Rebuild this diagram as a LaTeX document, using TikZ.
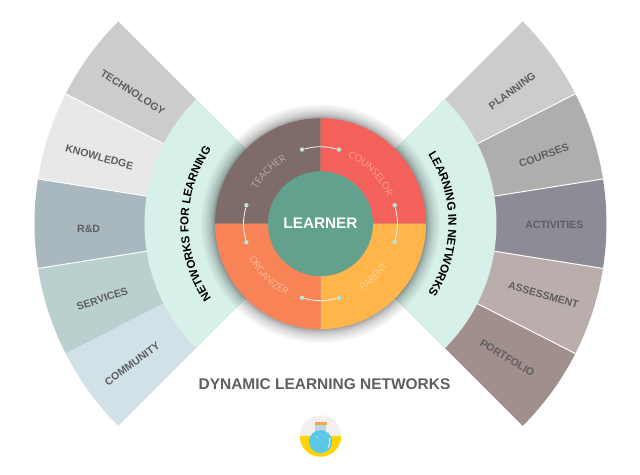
\documentclass[tikz,border=0pt]{standalone}
\usepackage{fontspec}
\setmainfont{Liberation Sans}
\newfontfamily\thinfont{Lato Light}
\usetikzlibrary{decorations.text}
\definecolor{bandmint}{HTML}{D8F0EA}
\definecolor{labelgray}{HTML}{5F5F5F}
\definecolor{dotmint}{HTML}{B8E6D8}
\definecolor{teacherink}{HTML}{DDD5D2}
\definecolor{counselorink}{HTML}{FFCFC8}
\definecolor{organizerink}{HTML}{FFDCC8}
\definecolor{parentink}{HTML}{FFEFCC}
\begin{document}
\begin{tikzpicture}[
    wedge/.style={draw=none},
    gap/.style={draw=white, line width=0.7pt},
    sector/.style={
        font=\fontsize{7.5}{9}\selectfont\bfseries,
        text=labelgray,
        inner sep=0pt
    },
    dot/.style={
        circle,
        fill=dotmint,
        inner sep=0pt,
        minimum size=0.11cm
    },
    link/.style={draw=white!70!dotmint, line width=0.6pt}
]
    \useasboundingbox (-8.0125,-6.2825) rectangle (7.9875,5.5925);

    \fill[wedge, fill={rgb,255:red,204;green,204;blue,204}] (0,0) -- (135:7.15) arc[start angle=135, end angle=153, radius=7.15] -- cycle;
    \fill[wedge, fill={rgb,255:red,232;green,232;blue,232}] (0,0) -- (153:7.15) arc[start angle=153, end angle=171, radius=7.15] -- cycle;
    \fill[wedge, fill={rgb,255:red,168;green,184;blue,190}] (0,0) -- (171:7.15) arc[start angle=171, end angle=189, radius=7.15] -- cycle;
    \fill[wedge, fill={rgb,255:red,185;green,208;blue,206}] (0,0) -- (189:7.15) arc[start angle=189, end angle=207, radius=7.15] -- cycle;
    \fill[wedge, fill={rgb,255:red,208;green,225;blue,231}] (0,0) -- (207:7.15) arc[start angle=207, end angle=225, radius=7.15] -- cycle;

    \fill[wedge, fill={rgb,255:red,204;green,204;blue,204}] (0,0) -- (45:7.15) arc[start angle=45, end angle=27, radius=7.15] -- cycle;
    \fill[wedge, fill={rgb,255:red,174;green,174;blue,174}] (0,0) -- (27:7.15) arc[start angle=27, end angle=9, radius=7.15] -- cycle;
    \fill[wedge, fill={rgb,255:red,143;green,139;blue,150}] (0,0) -- (9:7.15) arc[start angle=9, end angle=-9, radius=7.15] -- cycle;
    \fill[wedge, fill={rgb,255:red,185;green,174;blue,172}] (0,0) -- (-9:7.15) arc[start angle=-9, end angle=-27, radius=7.15] -- cycle;
    \fill[wedge, fill={rgb,255:red,160;green,143;blue,140}] (0,0) -- (-27:7.15) arc[start angle=-27, end angle=-45, radius=7.15] -- cycle;

    \draw[gap] (153:4.4) -- (153:7.15);
    \draw[gap] (171:4.4) -- (171:7.15);
    \draw[gap] (189:4.4) -- (189:7.15);
    \draw[gap] (27:4.4) -- (27:7.15);
    \draw[gap] (9:4.4) -- (9:7.15);
    \draw[gap] (-9:4.4) -- (-9:7.15);
    \draw[gap] (-27:4.4) -- (-27:7.15);

    \fill[bandmint] (0,0) -- (135:4.4) arc[start angle=135, end angle=225, radius=4.4] -- cycle;
    \fill[bandmint] (0,0) -- (45:4.4) arc[start angle=45, end angle=-45, radius=4.4] -- cycle;

    \foreach \haloradius in {2.66,2.67,2.68,2.70,2.72,2.74,2.77,2.80,2.84,2.88,2.93,2.98}
        \fill[black, opacity=0.035] (0,0) circle[radius=\haloradius];

    \fill[fill={rgb,255:red,127;green,107;blue,104}] (0,0) -- (90:2.6375) arc[start angle=90, end angle=180, radius=2.6375] -- cycle;
    \fill[fill={rgb,255:red,244;green,96;blue,90}] (0,0) -- (0:2.6375) arc[start angle=0, end angle=90, radius=2.6375] -- cycle;
    \fill[fill={rgb,255:red,255;green,181;blue,74}] (0,0) -- (270:2.6375) arc[start angle=270, end angle=360, radius=2.6375] -- cycle;
    \fill[fill={rgb,255:red,247;green,131;blue,86}] (0,0) -- (180:2.6375) arc[start angle=180, end angle=270, radius=2.6375] -- cycle;

    \node[circle, fill={rgb,255:red,98;green,161;blue,141}, minimum size=2.625cm, inner sep=0pt,
        text=white, font=\fontsize{10.9}{13}\selectfont\bfseries] (learner) at (0,0) {LEARNER};

    \path[decorate, decoration={text along path, text align=center,
        text={|\thinfont\fontsize{6.8}{8}\selectfont\color{teacherink}|TEACHER}}]
        (175:1.8) arc[start angle=175, end angle=95, radius=1.8];
    \path[decorate, decoration={text along path, text align=center,
        text={|\thinfont\fontsize{6.8}{8}\selectfont\color{counselorink}|COUNSELOR}}]
        (85:1.8) arc[start angle=85, end angle=5, radius=1.8];
    \path[decorate, decoration={text along path, text align=center,
        text={|\thinfont\fontsize{6.8}{8}\selectfont\color{organizerink}|ORGANIZER}}]
        (185:1.98) arc[start angle=185, end angle=265, radius=1.98];
    \path[decorate, decoration={text along path, text align=center,
        text={|\thinfont\fontsize{6.8}{8}\selectfont\color{parentink}|PARENT}}]
        (275:1.98) arc[start angle=275, end angle=355, radius=1.98];

    \node[dot] (teacherdot) at (104:1.91) {};
    \node[dot] (counselordot) at (76:1.91) {};
    \node[dot] (counselorlow) at (14:1.91) {};
    \node[dot] (parentdot) at (-14:1.91) {};
    \node[dot] (parentlow) at (284:1.91) {};
    \node[dot] (organizerdot) at (256:1.91) {};
    \node[dot] (organizerlow) at (194:1.91) {};
    \node[dot] (teacherlow) at (166:1.91) {};

    \draw[link] (teacherdot) to[bend left=14] (counselordot);
    \draw[link] (counselorlow) to[bend left=14] (parentdot);
    \draw[link] (parentlow) to[bend left=14] (organizerdot);
    \draw[link] (organizerlow) to[bend left=14] (teacherlow);

    \path[decorate, decoration={text along path, text align=center,
        text={|\fontsize{8.2}{10}\selectfont\bfseries|NETWORKS FOR LEARNING}}]
        (225:3.3) arc[start angle=225, end angle=135, radius=3.3];
    \path[decorate, decoration={text along path, text align=center,
        text={|\fontsize{8.3}{10}\selectfont\bfseries|LEARNING IN NETWORKS}}]
        (45:3.2) arc[start angle=45, end angle=-45, radius=3.2];

    \node[sector, rotate=-33] (technology) at (145:5.73) {TECHNOLOGY};
    \node[sector, rotate=-15] (knowledge) at (163.3:5.77) {KNOWLEDGE};
    \node[sector] (rnd) at (181.3:5.8) {R\&D};
    \node[sector, rotate=18] (services) at (199:5.77) {SERVICES};
    \node[sector, rotate=36] (community) at (216.7:5.87) {COMMUNITY};

    \node[sector, rotate=36] (planning) at (34.7:5.83) {PLANNING};
    \node[sector, rotate=20] (courses) at (17:5.84) {COURSES};
    \node[sector] (activities) at (5.845,-0.04) {ACTIVITIES};
    \node[sector, rotate=-16] (assessment) at (-17.7:5.85) {ASSESSMENT};
    \node[sector, rotate=-31] (portfolio) at (-35.7:5.75) {PORTFOLIO};

    \node[text=labelgray, font=\fontsize{11}{13}\selectfont\bfseries] (title) at (0.1,-4.01)
        {DYNAMIC LEARNING NETWORKS};

    \fill[fill={rgb,255:red,242;green,240;blue,235}] (0,-5.3075) circle[radius=0.5175];
    \fill[fill={rgb,255:red,255;green,212;blue,0}] (-0.5175,-5.3075) arc[start angle=180, end angle=360, radius=0.5175] -- cycle;
    \fill[fill={rgb,255:red,181;green,217;blue,223}] (-0.135,-4.96) rectangle (0.135,-5.3);
    \fill[fill={rgb,255:red,92;green,200;blue,230}] (0,-5.45) circle[radius=0.29];
    \fill[fill={rgb,255:red,245;green,166;blue,76}] (-0.15,-5.04) rectangle (0.15,-4.96);
    \draw[white, line width=0.5pt, line cap=round] (0,-5.45) ++(20:0.24) arc[start angle=20, end angle=-40, radius=0.24];
    \fill[white!60!cyan] (-0.08,-5.33) circle[radius=0.025];
\end{tikzpicture}
\end{document}
